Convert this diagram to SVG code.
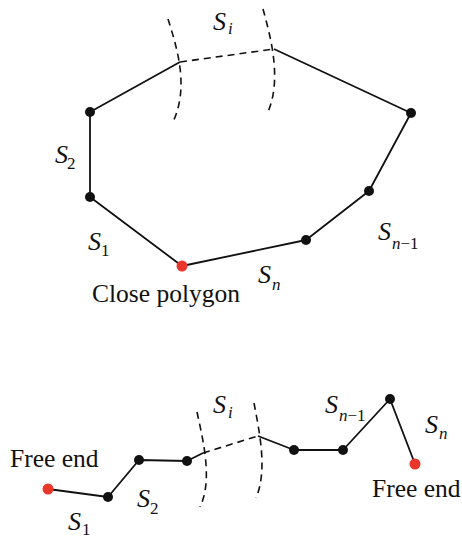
<svg xmlns="http://www.w3.org/2000/svg" width="462" height="538" viewBox="0 0 462 538">
<style>
.ln{fill:none;stroke:#111;stroke-width:1.8;stroke-linejoin:round}
.ds{fill:none;stroke:#111;stroke-width:1.6;stroke-dasharray:7 5}
.dot{fill:#111}
.red{fill:#e8362a}
text{font-family:"Liberation Serif","Times New Roman",serif;fill:#111}
.S{font-style:italic;font-size:26px}
.sub{font-size:17px;font-style:normal}
.subi{font-size:17px;font-style:italic}
.lab{font-size:25.5px}
</style>
<rect width="462" height="538" fill="#fff"/>
<g id="connectors">
<polyline class="ln" points="180,62 90,112 90,197 182,266 306,240 369,191 411,113 274,49"/>
<line class="ds" x1="180" y1="62" x2="274" y2="49"/>
<path class="ds" d="M168,19 C177,48 190,88 172,124"/>
<path class="ds" d="M263,9 C270,35 283,80 267,114"/>
<polyline class="ln" points="48,489 108,497 139,460 187,461 203,453"/>
<line class="ds" x1="203" y1="453" x2="258" y2="436"/>
<polyline class="ln" points="258,436 294,450 343,450 390,399 415,464"/>
<path class="ds" d="M197,412 C203,440 213,480 200,507"/>
<path class="ds" d="M254,403 C259,430 268,470 256,498"/>
</g>
<g id="closed-polygon">
<circle id="p1" class="dot" cx="90" cy="112" r="5"/>
<circle id="p2" class="dot" cx="90" cy="197" r="5"/>
<circle id="p0" class="red" cx="182" cy="266" r="5.5"/>
<circle id="p3" class="dot" cx="306" cy="240" r="5"/>
<circle id="p4" class="dot" cx="369" cy="191" r="5"/>
<circle id="p5" class="dot" cx="411" cy="113" r="5"/>
</g>
<g id="open-polyline">
<circle id="q0" class="red" cx="48" cy="489" r="5.5"/>
<circle id="q1" class="dot" cx="108" cy="497" r="5"/>
<circle id="q2" class="dot" cx="139" cy="460" r="5"/>
<circle id="q3" class="dot" cx="187" cy="461" r="5"/>
<circle id="q4" class="dot" cx="294" cy="450" r="5"/>
<circle id="q5" class="dot" cx="343" cy="450" r="5"/>
<circle id="q6" class="dot" cx="390" cy="399" r="5"/>
<circle id="q7" class="red" cx="415" cy="464" r="5.5"/>
</g>
<g id="labels-top">
<text class="S" x="213" y="30">S<tspan class="subi" x="228" y="34">i</tspan></text>
<text class="S" x="55" y="163">S<tspan class="sub" x="67" y="169">2</tspan></text>
<text class="S" x="88" y="250">S<tspan class="sub" x="101" y="256">1</tspan></text>
<text class="S" x="378" y="240">S<tspan class="subi" x="392" y="249">n</tspan><tspan class="sub">−1</tspan></text>
<text class="S" x="258" y="283">S<tspan class="subi" x="272" y="290">n</tspan></text>
<text class="lab" x="92" y="302">Close polygon</text>
</g>
<g id="labels-bottom">
<text class="lab" x="10" y="467">Free end</text>
<text class="lab" x="372" y="497">Free end</text>
<text class="S" x="68" y="530">S<tspan class="sub" x="82" y="535">1</tspan></text>
<text class="S" x="137" y="507">S<tspan class="sub" x="150" y="514">2</tspan></text>
<text class="S" x="213" y="413">S<tspan class="subi" x="228" y="418">i</tspan></text>
<text class="S" x="325" y="413">S<tspan class="subi" x="339" y="421">n</tspan><tspan class="sub">−1</tspan></text>
<text class="S" x="425" y="433">S<tspan class="subi" x="439" y="439">n</tspan></text>
</g>
</svg>
